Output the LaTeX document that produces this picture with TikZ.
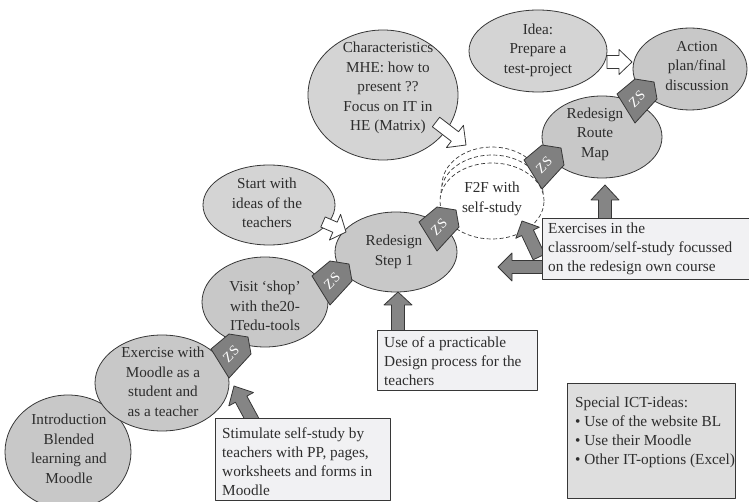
\documentclass[tikz,border=0pt]{standalone}
\usepackage{fontspec}
\setmainfont{Liberation Serif}
\usetikzlibrary{calc,shapes.geometric}

\definecolor{edge}{RGB}{55,55,55}
\definecolor{txtcol}{RGB}{45,45,45}
\definecolor{bubA}{RGB}{200,200,200}
\definecolor{bubB}{RGB}{212,212,212}
\definecolor{boxfill}{RGB}{241,241,243}
\definecolor{boxgray}{RGB}{222,222,222}
\definecolor{zsfill}{RGB}{128,128,128}
\definecolor{arrfill}{RGB}{133,133,133}

% block arrow: style, tail, tip, half body width, half head width, head length
\newcommand\blockarrow[6]{%
  \coordinate (ah) at ($(#3)!#6!(#2)$);
  \path[#1] ($(#2)!#4!90:(#3)$) -- ($(ah)!#4!90:(#3)$) -- ($(ah)!#5!90:(#3)$)
    -- (#3) -- ($(ah)!#5!-90:(#3)$) -- ($(ah)!#4!-90:(#3)$) -- ($(#2)!#4!-90:(#3)$) -- cycle;
}

% "ZS" badge: name, position
\newcommand\zsbadge[2]{%
  \path[zsshape, shift={(#2)}] (-20,-5) -- (-2,-20) -- (17,-17) -- (20,0) -- (-2,24) -- cycle;
  \node[zslabel] (#1) at (#2) {ZS};
}

\begin{document}
\begin{tikzpicture}[x=1pt,y=-1pt,line join=round,
  bubble/.style={ellipse, draw=edge, line width=0.8pt, inner sep=0pt},
  pathbub/.style={bubble, fill=bubA},
  sidebub/.style={bubble, fill=bubB},
  f2fring/.style={ellipse, draw=edge, fill=white, line width=0.7pt,
    dash pattern=on 4pt off 2.5pt, inner sep=0pt},
  bubtext/.style={font=\fontsize{15.2pt}{19.5pt}\selectfont, text=txtcol,
    align=center, inner sep=0pt},
  panel/.style={rectangle, draw=edge, line width=0.8pt, fill=boxfill,
    inner sep=0pt, anchor=north west},
  paneltext/.style={font=\fontsize{15.3pt}{19pt}\selectfont, text=txtcol,
    align=left, inner sep=0pt, anchor=north west},
  zsshape/.style={fill=zsfill, draw=edge, line width=0.8pt},
  zslabel/.style={font=\fontsize{14pt}{14pt}\selectfont, text=white,
    rotate=45, inner sep=0pt},
  solidarrow/.style={fill=arrfill, draw=edge, line width=0.8pt},
  openarrow/.style={fill=white, draw=edge, line width=0.8pt},
]
\useasboundingbox (0,0) rectangle (749,502);

% ---- bubbles along the route ----
\node[pathbub, minimum width=126pt, minimum height=114pt] (intro) at (68,452) {};
\node[pathbub, minimum width=134pt, minimum height=96pt] (exer) at (162,383) {};
\node[pathbub, minimum width=126pt, minimum height=90pt] (visit) at (265,302) {};
\node[sidebub, minimum width=132pt, minimum height=80pt] (start) at (269,205) {};
\node[pathbub, minimum width=122pt, minimum height=80pt] (step) at (396,252) {};
\node[sidebub, minimum width=150pt, minimum height=130pt] (charac) at (383,95) {};
\node[sidebub, minimum width=138pt, minimum height=82pt] (idea) at (538,51) {};
\node[pathbub, minimum width=120pt, minimum height=82pt] (route) at (602,137) {};
\node[pathbub, minimum width=114pt, minimum height=82pt] (action) at (690,69) {};

% ---- face-to-face stage, stacked dashed rings ----
\node[f2fring, minimum width=100pt, minimum height=76pt] (f2fc) at (492,185) {};
\node[f2fring, minimum width=102pt, minimum height=76pt] (f2fb) at (492,193) {};
\node[f2fring, minimum width=104pt, minimum height=76pt] (f2f) at (492,201) {};

% ---- arrow end points ----
\coordinate (stimTail) at (254,423);
\coordinate (stimTip) at (234,386);
\coordinate (useTail) at (398,332);
\coordinate (useTip) at (398,292);
\coordinate (exUpTail) at (605,220);
\coordinate (exUpTip) at (605,185);
\coordinate (exDiagTail) at (539,257);
\coordinate (exDiagTip) at (522,221);
\coordinate (exLeftTail) at (545,267);
\coordinate (exLeftTip) at (498,267);
\coordinate (startTail) at (323,222);
\coordinate (startTip) at (346,232);
\coordinate (charTail) at (436,122);
\coordinate (charTip) at (466,145);
\coordinate (ideaTail) at (607,62);
\coordinate (ideaTip) at (632,62);

% ---- input arrows (gray) ----
\blockarrow{solidarrow}{stimTail}{stimTip}{6.5pt}{14pt}{15pt}
\blockarrow{solidarrow}{useTail}{useTip}{6.5pt}{14pt}{13pt}
\blockarrow{solidarrow}{exUpTail}{exUpTip}{6.5pt}{14pt}{15pt}
\blockarrow{solidarrow}{exDiagTail}{exDiagTip}{6.5pt}{13pt}{13pt}
\blockarrow{solidarrow}{exLeftTail}{exLeftTip}{6.5pt}{14pt}{14pt}

% ---- idea arrows (open) ----
\blockarrow{openarrow}{startTail}{startTip}{5.5pt}{14pt}{12pt}
\blockarrow{openarrow}{charTail}{charTip}{6pt}{14pt}{14pt}
\blockarrow{openarrow}{ideaTail}{ideaTip}{6.5pt}{12.5pt}{13pt}

% ---- text panels ----
\node[panel, minimum width=175pt, minimum height=82pt] (stim) at (215,418) {};
\node[panel, minimum width=160pt, minimum height=60pt] (use) at (377,330) {};
\node[panel, minimum width=207pt, minimum height=61pt] (exbox) at (542,218) {};
\node[panel, fill=boxgray, minimum width=168pt, minimum height=115pt] (ict) at (567,383) {};

% ---- ZS badges ----
\zsbadge{zs1}{231,354}
\zsbadge{zs2}{332,281}
\zsbadge{zs3}{439,227}
\zsbadge{zs4}{544,165}
\zsbadge{zs5}{637,99}

% ---- bubble texts ----
\node[bubtext] (introT) at (69,449) {Introduction\\Blended\\learning and\\Moodle};
\node[bubtext] (exerT) at (163,382) {Exercise with\\Moodle as a\\student and\\as a teacher};
\node[bubtext] (visitT) at (265,306) {Visit ‘shop’\\with the20-\\ITedu-tools};
\node[bubtext] (startT) at (267,203) {Start with\\ideas of the\\teachers};
\node[bubtext] (stepT) at (394,252) {Redesign\\Step 1};
\node[bubtext] (characT) at (388,88) {Characteristics\\MHE: how to\\present ??\\Focus on IT in\\HE (Matrix)};
\node[bubtext] (f2fT) at (492,199) {F2F with\\self-study};
\node[bubtext] (ideaT) at (538,50) {Idea:\\Prepare a\\test-project};
\node[bubtext] (routeT) at (595,134) {Redesign\\Route\\Map};
\node[bubtext] (actionT) at (697,66) {Action\\plan/final\\discussion};

% ---- panel texts ----
\node[paneltext] (stimT) at (222,427.5) {Stimulate self-study by\\teachers with PP, pages,\\worksheets and forms in\\Moodle};
\node[paneltext] (useT) at (384,336.5) {Use of a practicable\\Design process for the\\teachers};
\node[paneltext] (exboxT) at (548,222.5) {Exercises in the\\classroom/self-study focussed\\on the redesign own course};
\node[paneltext] (ictT) at (575,396.5) {Special ICT-ideas:\\• Use of the website BL\\• Use their Moodle\\• Other IT-options (Excel)};
\end{tikzpicture}
\end{document}
